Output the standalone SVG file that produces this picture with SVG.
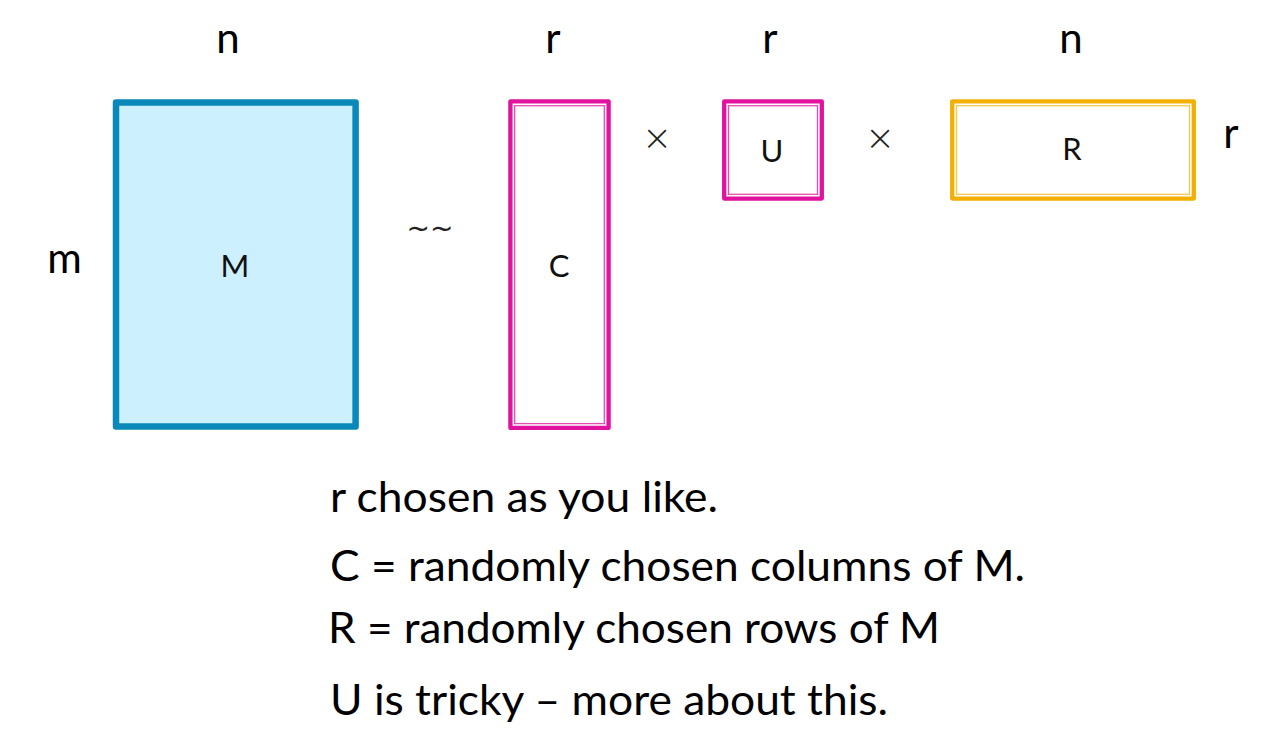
<svg xmlns="http://www.w3.org/2000/svg" width="1266" height="735" viewBox="0 0 1266 735">
<style>
.lbl{font-family:Lato,"Liberation Sans",sans-serif;font-size:42px;fill:#000;text-anchor:middle}
.in{font-family:Lato,"Liberation Sans",sans-serif;font-size:31px;fill:#111;text-anchor:middle}
.op{font-family:"DejaVu Sans","Liberation Sans",sans-serif;font-size:28px;fill:#222;text-anchor:middle}
.x{font-family:"DejaVu Sans","Liberation Sans",sans-serif;font-size:36px;font-weight:300;fill:#222;text-anchor:middle}
.body{font-family:Lato,"Liberation Sans",sans-serif;font-size:42px;fill:#000}
.pk{fill:none;stroke:#E0129E;stroke-width:4.3;stroke-linejoin:round}
.pki{fill:none;stroke:#E64DB4;stroke-width:1.3}
.gd{fill:none;stroke:#F2B000;stroke-width:4.3;stroke-linejoin:round}
.gdi{fill:none;stroke:#F6C850;stroke-width:1.3}
</style>
<rect width="1266" height="735" fill="#fff"/>
<g id="M">
<rect x="116" y="102.6" width="239.6" height="324" fill="#CCF0FE" stroke="#0A88BA" stroke-width="6.5" stroke-linejoin="round"/>
<text class="in" x="235" y="277">M</text>
</g>
<g id="C">
<rect class="pk" x="510.4" y="101.4" width="98.2" height="326.5"/>
<rect class="pki" x="514.7" y="105.7" width="89.6" height="317.9"/>
<text class="in" x="559" y="277">C</text>
</g>
<g id="U">
<rect class="pk" x="724.2" y="101.4" width="97.6" height="97.2"/>
<rect class="pki" x="728.5" y="105.7" width="89" height="88.6"/>
<text class="in" x="772" y="162">U</text>
</g>
<g id="R">
<rect class="gd" x="952.2" y="101.4" width="241.6" height="97.2"/>
<rect class="gdi" x="956.5" y="105.7" width="233" height="88.6"/>
<text class="in" x="1072" y="160">R</text>
</g>
<g id="connectors"></g>
<g id="labels">
<text class="lbl" x="228" y="53">n</text>
<text class="lbl" x="553" y="53">r</text>
<text class="lbl" x="770" y="53">r</text>
<text class="lbl" x="1071" y="53">n</text>
<text class="lbl" x="1231" y="148">r</text>
<text class="lbl" x="64.5" y="273">m</text>
<text class="op" x="430" y="238">~~</text>
<text class="x" x="657" y="150">×</text>
<text class="x" x="880" y="150">×</text>
</g>
<g id="notes">
<text class="body" x="330" y="512" textLength="388" lengthAdjust="spacingAndGlyphs">r chosen as you like.</text>
<text class="body" x="330" y="581" textLength="695" lengthAdjust="spacingAndGlyphs">C = randomly chosen columns of M.</text>
<text class="body" x="328" y="643" textLength="612" lengthAdjust="spacingAndGlyphs">R = randomly chosen rows of M</text>
<text class="body" x="330" y="715" textLength="558" lengthAdjust="spacingAndGlyphs">U is tricky – more about this.</text>
</g>
</svg>
